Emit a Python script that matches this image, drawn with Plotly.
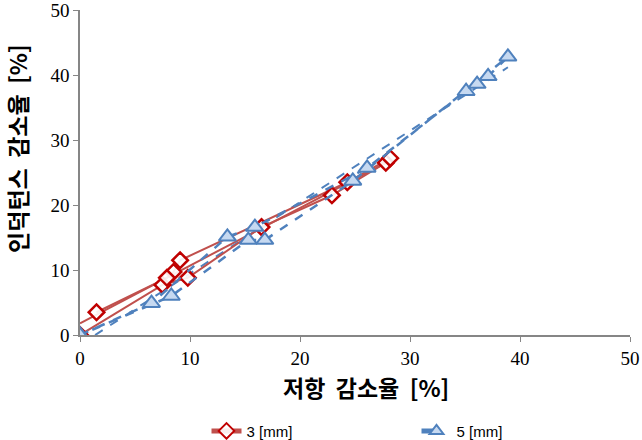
import numpy as np
import plotly.graph_objects as go

# 3 [mm] series (resistance decrease %, inductance decrease %)
x3 = [0, 7.5, 9.8, 16.5, 22.9, 27.8, 28.2, 24.3, 9.1, 8.5, 7.9, 1.5]
y3 = [0, 7.7, 8.8, 16.6, 21.5, 26.5, 27.2, 23.5, 11.5, 9.7, 8.8, 3.5]
# 5 [mm] series
x5 = [0, 6.5, 13.4, 15.9, 26.1, 35.1, 36.1, 37.1, 38.9, 24.8, 16.8, 15.3, 8.3, 0]
y5 = [0, 4.9, 15.1, 16.6, 25.7, 37.5, 38.6, 39.8, 42.8, 23.7, 14.6, 14.6, 6.0, 0]

xticks = [0, 10, 20, 30, 40, 50]
yticks = [0, 10, 20, 30, 40, 50]

red = "#C0504D"
red_dark = "#C00000"
blue = "#4F81BD"

fig = go.Figure()

# linear trendlines fitted from the data
p3 = np.polyfit(x3[1:], y3[1:], 1)
tx3 = np.array([0, max(x3)])
fig.add_trace(go.Scatter(x=tx3, y=np.polyval(p3, tx3), mode="lines",
                         line=dict(color=red, width=2), showlegend=False, hoverinfo="skip"))
p5 = np.polyfit(x5, y5, 1)
tx5 = np.array([0, max(x5)])
fig.add_trace(go.Scatter(x=tx5, y=np.polyval(p5, tx5), mode="lines",
                         line=dict(color=blue, width=2, dash="dash"), showlegend=False, hoverinfo="skip"))

fig.add_trace(go.Scatter(x=x3, y=y3, mode="lines+markers", name="3 [mm]",
                         line=dict(color=red, width=2),
                         marker=dict(symbol="diamond", size=12, color="rgba(255,255,255,0.9)",
                                     line=dict(color=red_dark, width=2.5))))
fig.add_trace(go.Scatter(x=x5, y=y5, mode="lines+markers", name="5 [mm]",
                         line=dict(color=blue, width=2.5, dash="dash"),
                         marker=dict(symbol="triangle-up", size=15, color="#C6D9F1",
                                     line=dict(color=blue, width=2))))

axis_common = dict(showgrid=False, zeroline=False, showline=True, linecolor="#868686",
                   linewidth=1.5, ticks="outside", ticklen=5, tickcolor="#868686",
                   ticklabeloverflow="allow",
                   tickfont=dict(family="Liberation Serif", size=19, color="#000000"))

fig.update_layout(
    width=642, height=440,
    margin=dict(l=80, r=12, t=10, b=105, autoexpand=False),
    plot_bgcolor="white", paper_bgcolor="white",
    xaxis=dict(range=[0, 50], tickvals=xticks, **axis_common),
    yaxis=dict(range=[0, 50], tickvals=yticks, **axis_common),
    showlegend=True,
    legend=dict(orientation="h", x=0.23, xanchor="left", y=-0.245, yanchor="top",
                font=dict(family="Liberation Sans", size=15, color="#000000"),
                entrywidth=165, entrywidthmode="pixels", itemwidth=30,
                itemsizing="constant"),
    annotations=[
        dict(text="<b>저항  감소율  [%]</b>", x=0.52, xref="paper", y=-0.1, yref="paper",
             xanchor="center", yanchor="top", showarrow=False,
             font=dict(family="Noto Sans CJK KR", size=23, color="#000000")),
        dict(text="<b>인덕턴스  감소율  [%]</b>", x=-0.115, xref="paper", y=0.575, yref="paper",
             xanchor="center", yanchor="middle", showarrow=False, textangle=-90,
             font=dict(family="Noto Sans CJK KR", size=23, color="#000000")),
    ],
)

fig.write_html("out.html")
